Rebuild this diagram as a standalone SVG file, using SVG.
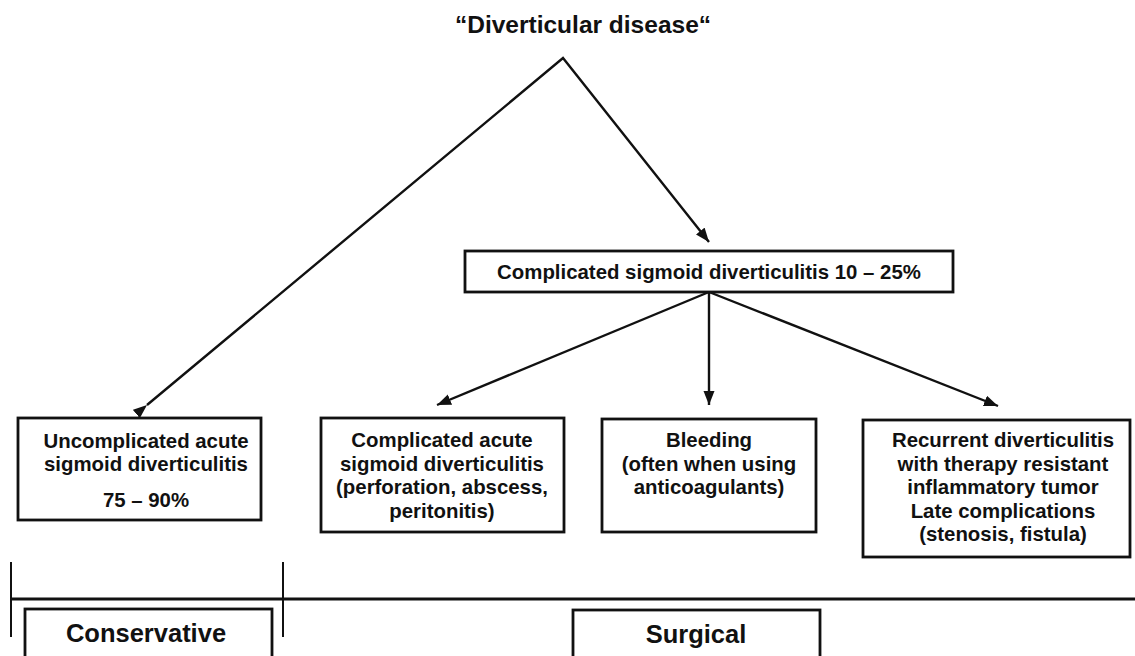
<svg xmlns="http://www.w3.org/2000/svg" width="1135" height="656" viewBox="0 0 1135 656">
<defs>
<marker id="ah" markerUnits="userSpaceOnUse" markerWidth="16" markerHeight="12" refX="14" refY="5.5" orient="auto">
<path d="M0,0 L14,5.5 L0,11 z" fill="#111"/>
</marker>
<style>
.t{font-family:"Liberation Sans",Arial,Helvetica,sans-serif;font-weight:bold;fill:#111;text-anchor:middle}
.s20{font-size:20.4px}
.box{fill:#fff;stroke:#111;stroke-width:2.8}
.c{stroke:#111;stroke-width:2.4;fill:none}
</style>
</defs>
<rect width="1135" height="656" fill="#fff"/>
<g id="title"><text class="t" x="583" y="33" font-size="24.5">“Diverticular disease“</text></g>
<g id="connectors">
<polyline class="c" points="147,405 563,58 709,242" marker-start="url(#ah)" marker-end="url(#ah)"/>
<line class="c" x1="709" y1="292" x2="437" y2="405" marker-end="url(#ah)"/>
<line class="c" x1="709" y1="292" x2="709" y2="405" marker-end="url(#ah)"/>
<line class="c" x1="709" y1="292" x2="998" y2="406" marker-end="url(#ah)"/>
</g>
<g id="complicated">
<rect class="box" x="465" y="251" width="488" height="41"/>
<text class="t s20" x="709" y="279">Complicated sigmoid diverticulitis 10 – 25%</text>
</g>
<g id="uncomplicated">
<rect class="box" x="18" y="418" width="243" height="102"/>
<text class="t s20" x="146" y="448">Uncomplicated acute</text>
<text class="t s20" x="146" y="471">sigmoid diverticulitis</text>
<text class="t s20" x="146" y="507">75 – 90%</text>
</g>
<g id="complicated-acute">
<rect class="box" x="321" y="418" width="243" height="114"/>
<text class="t s20" x="442" y="447">Complicated acute</text>
<text class="t s20" x="442" y="471">sigmoid diverticulitis</text>
<text class="t s20" x="442" y="494">(perforation, abscess,</text>
<text class="t s20" x="442" y="518">peritonitis)</text>
</g>
<g id="bleeding">
<rect class="box" x="602" y="419" width="214" height="113"/>
<text class="t s20" x="709" y="447">Bleeding</text>
<text class="t s20" x="709" y="471">(often when using</text>
<text class="t s20" x="709" y="494">anticoagulants)</text>
</g>
<g id="recurrent">
<rect class="box" x="863" y="420" width="267" height="137"/>
<text class="t s20" x="1003" y="447">Recurrent diverticulitis</text>
<text class="t s20" x="1003" y="471">with therapy resistant</text>
<text class="t s20" x="1003" y="494">inflammatory tumor</text>
<text class="t s20" x="1003" y="518">Late complications</text>
<text class="t s20" x="1003" y="541">(stenosis, fistula)</text>
</g>
<g id="scale">
<line x1="11" y1="599" x2="1135" y2="599" stroke="#111" stroke-width="3"/>
<line x1="11" y1="562" x2="11" y2="637" stroke="#111" stroke-width="2"/>
<line x1="283" y1="562" x2="283" y2="637" stroke="#111" stroke-width="2"/>
</g>
<g id="conservative">
<rect class="box" x="25" y="609" width="247" height="60"/>
<text class="t" x="146" y="642" font-size="25.5">Conservative</text>
</g>
<g id="surgical">
<rect class="box" x="573" y="610" width="247" height="60"/>
<text class="t" x="696" y="643" font-size="25.5">Surgical</text>
</g>
</svg>
